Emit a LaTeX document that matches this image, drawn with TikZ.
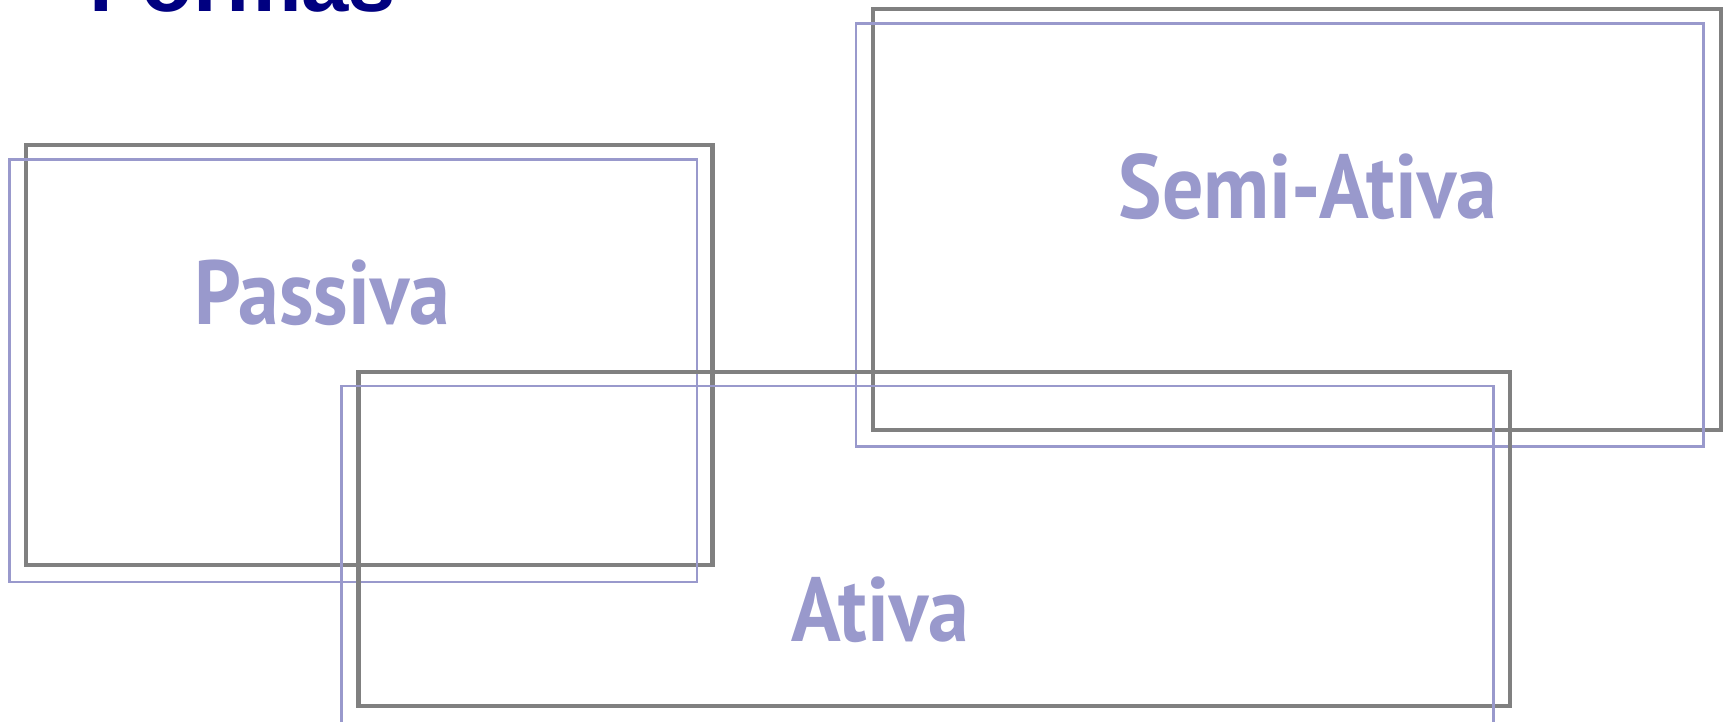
\documentclass[tikz,border=0pt]{standalone}
\usepackage{fontspec}
\usepackage{graphicx}
\newfontfamily\titlefont{Liberation Sans}
\newfontfamily\labelfont{PT Sans}
\definecolor{navy}{RGB}{0,0,128}
\definecolor{boxgray}{RGB}{128,128,128}
\definecolor{lilac}{RGB}{153,153,204}
\newcommand{\lbltext}[1]{\scalebox{0.9}[1]{#1}}
\tikzset{
  graybox/.style={draw=boxgray, line width=4.5pt},
  bluebox/.style={draw=lilac, line width=2.5pt},
  lbl/.style={text=lilac, font=\labelfont\bfseries\fontsize{91}{100}\selectfont, inner sep=0pt, anchor=base},
  ttl/.style={text=navy, font=\titlefont\bfseries\fontsize{85}{90}\selectfont, inner sep=0pt, anchor=base west}
}
\begin{document}
\begin{tikzpicture}[x=1pt,y=-1pt]
\useasboundingbox (0,0) rectangle (1723,721);
\clip (0,0) rectangle (1723,721);
% title
\node[ttl] (title) at (89,11) {Formas};
% Passiva
\draw[graybox] (26,145) rectangle (712.5,565);
\draw[bluebox] (9.5,159.5) rectangle (697,582);
% Semi-Ativa
\draw[graybox] (873,9) rectangle (1721,430);
\draw[bluebox] (856,23.5) rectangle (1703.5,446.5);
% Ativa
\draw[graybox] (358.5,372) rectangle (1510,706);
\draw[bluebox] (341.5,386) rectangle (1493.5,740);
% labels
\node[lbl] (passiva) at (322,324) {\lbltext{Passiva}};
\node[lbl] (semi) at (1308,218) {\lbltext{Semi-Ativa}};
\node[lbl] (ativa) at (880,641) {\lbltext{Ativa}};
\end{tikzpicture}
\end{document}
